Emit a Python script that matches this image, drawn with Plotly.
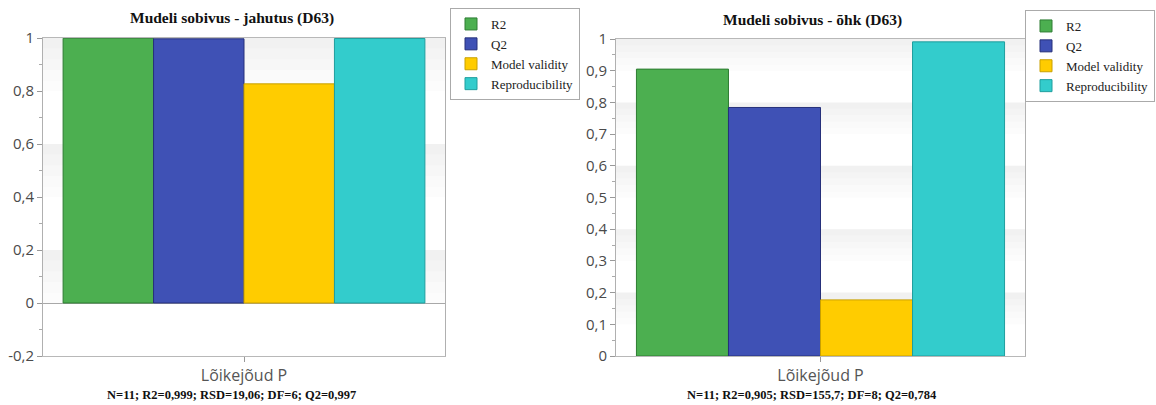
import plotly.graph_objects as go

# Model fit summary for two responses (D63)
series = ["R2", "Q2", "Model validity", "Reproducibility"]
colors = ["#4CAF50", "#3F51B5", "#FFCC00", "#33CCCC"]
edges = ["#2E7D32", "#26307A", "#C9A000", "#1F9E9E"]
category = ["Lõikejõud P"]

jahutus_values = [0.999, 0.997, 0.827, 0.998]
ohk_values = [0.905, 0.784, 0.177, 0.991]

left_ticks = [-0.2, 0, 0.2, 0.4, 0.6, 0.8, 1]
right_ticks = [0, 0.1, 0.2, 0.3, 0.4, 0.5, 0.6, 0.7, 0.8, 0.9, 1]

left_title = "Mudeli sobivus - jahutus (D63)"
right_title = "Mudeli sobivus - õhk (D63)"
left_footer = "N=11; R2=0,999; RSD=19,06; DF=6; Q2=0,997"
right_footer = "N=11; R2=0,905; RSD=155,7; DF=8; Q2=0,784"

W, H = 1156, 405


def px_x(p):
    return p / W


def px_y(p):
    return 1 - p / H


def tick_label(v):
    s = ("%.1f" % v).rstrip("0").rstrip(".")
    return s.replace(".", ",") if s != "-0" else "0"


fig = go.Figure()

for i, name in enumerate(series):
    fig.add_trace(go.Bar(
        x=category, y=[jahutus_values[i]], name=name,
        marker=dict(color=colors[i], line=dict(color=edges[i], width=1)),
        xaxis="x", yaxis="y", legend="legend",
    ))
for i, name in enumerate(series):
    fig.add_trace(go.Bar(
        x=category, y=[ohk_values[i]], name=name,
        marker=dict(color=colors[i], line=dict(color=edges[i], width=1)),
        xaxis="x2", yaxis="y2", legend="legend2",
    ))

tick_font = dict(family="Open Sans, DejaVu Sans, sans-serif", size=15, color="#4a4a4a")
serif = "Liberation Serif, Times New Roman, serif"

common_x = dict(
    type="category", showline=True, mirror=True, linecolor="#b8b8b8",
    ticks="outside", ticklen=5, tickcolor="#999", tickfont=dict(
        family="Open Sans, DejaVu Sans, sans-serif", size=16, color="#555"),
    showgrid=False,
)
common_y = dict(
    showline=True, mirror=True, linecolor="#b0b0b0",
    ticks="outside", ticklen=5, tickcolor="#999", tickfont=tick_font,
    showgrid=False, zeroline=True, zerolinecolor="#a8a8a8", zerolinewidth=1,
    tickmode="array",
)

legend_style = dict(
    yanchor="top",
    bordercolor="#aaaaaa", borderwidth=1, bgcolor="white",
    font=dict(family=serif, size=13, color="#222"),
    tracegroupgap=0, itemwidth=30, traceorder="normal",
)

fig.update_layout(
    width=W, height=H,
    margin=dict(l=0, r=0, t=0, b=0, autoexpand=False),
    paper_bgcolor="white", plot_bgcolor="white",
    separators=", ",
    barmode="group", bargap=0.1, bargroupgap=0,
    xaxis=dict(domain=[px_x(43), px_x(445)], anchor="y", **common_x),
    yaxis=dict(domain=[px_y(356), px_y(38)], anchor="x", range=[-0.2, 1],
               tickvals=left_ticks, ticktext=[tick_label(v) for v in left_ticks],
               minor=dict(dtick=0.1, ticklen=3, tickcolor="#aaa", ticks="outside"),
               **common_y),
    xaxis2=dict(domain=[px_x(616), px_x(1025)], anchor="y2", **common_x),
    yaxis2=dict(domain=[px_y(356), px_y(39)], anchor="x2", range=[0, 1],
                tickvals=right_ticks, ticktext=[tick_label(v) for v in right_ticks],
                minor=dict(dtick=0.05, ticklen=3, tickcolor="#aaa", ticks="outside"),
                **common_y),
    legend=dict(x=px_x(450), y=px_y(8), xanchor="left", **legend_style),
    legend2=dict(x=px_x(1155), y=px_y(10), xanchor="right", **legend_style),
    showlegend=True,
)

# Soft shaded bands behind the bars, fading downward
shapes = []


def add_band(xref, yref, top, height):
    steps = 5
    for k in range(steps):
        y1 = top - height * k / steps
        y0 = top - height * (k + 1) / steps
        shapes.append(dict(
            type="rect", xref=xref + " domain", yref=yref,
            x0=0, x1=1, y0=y0, y1=y1, layer="below",
            fillcolor="#e6e6e6", opacity=0.55 * (1 - k / steps),
            line=dict(width=0),
        ))


for top in [1.0, 0.6, 0.2]:
    add_band("x", "y", top, 0.2)
for top in [1.0, 0.8, 0.6, 0.4, 0.2]:
    add_band("x2", "y2", top, 0.1)
fig.update_layout(shapes=shapes)


def label(text, x, y, size):
    return dict(text="<b>" + text + "</b>", x=px_x(x), y=px_y(y),
                xref="paper", yref="paper", showarrow=False,
                xanchor="center", yanchor="middle",
                font=dict(family=serif, size=size, color="#111"))


fig.update_layout(annotations=[
    label(left_title, 232, 18, 15.5),
    label(right_title, 812, 20, 15.5),
    label(left_footer, 231, 395, 12.5),
    label(right_footer, 812, 395, 12.5),
])

fig.write_html("out.html")
